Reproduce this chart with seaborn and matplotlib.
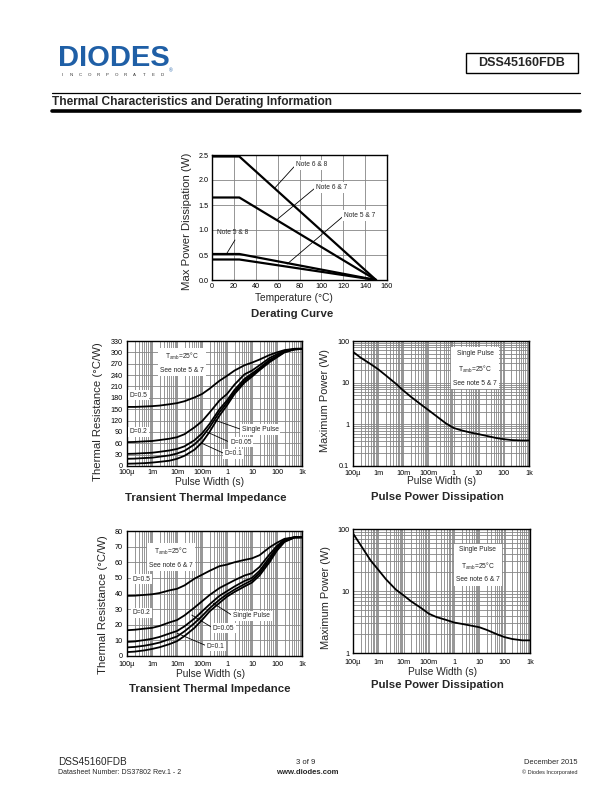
import numpy as np
import pandas as pd
import matplotlib
matplotlib.use("Agg")
import matplotlib.pyplot as plt
from matplotlib.lines import Line2D
from matplotlib.patches import Rectangle
from matplotlib.ticker import FixedLocator, FixedFormatter, NullFormatter, MultipleLocator, FormatStrFormatter
import seaborn as sns

# ---------------- data ----------------
# Derating curve
temp_c = [0, 25, 150]
pd_note68 = [2.47, 2.47, 0.0]
pd_note67 = [1.65, 1.65, 0.0]
pd_note58 = [0.52, 0.52, 0.0]
pd_note57 = [0.41, 0.41, 0.0]

# Pulse widths (s)
pulse_t = [1e-4, 2e-4, 5e-4, 1e-3, 2e-3, 5e-3, 1e-2, 2e-2, 5e-2, 0.1, 0.2, 0.5,
           1, 2, 5, 10, 20, 50, 100, 200, 500, 1000]
decade_ticks = [1e-4, 1e-3, 1e-2, 1e-1, 1, 10, 100, 1000]
decade_labels = ["100\u00b5", "1m", "10m", "100m", "1", "10", "100", "1k"]

# Transient thermal impedance (note 5 & 7), degC/W
zth1_d05 = [156, 156, 157, 158, 159.5, 163, 166, 171, 181, 190, 204, 225,
            238, 252, 266, 273, 281, 293, 300, 306, 309.5, 310]
zth1_d02 = [63, 63.5, 65, 66, 68.5, 72, 76, 84, 102, 118, 141, 173,
            190, 215, 242, 252, 266, 285, 295, 304, 308.5, 309]
zth1_d01 = [32, 32.5, 34, 35, 37.5, 41, 45, 52, 68, 86, 111, 150,
            173, 201, 230, 244, 259, 280, 291, 302, 308, 309]
zth1_d005 = [19, 19.5, 21, 22, 24.5, 28, 33, 40, 57, 76, 102, 142,
             167, 195, 225, 240, 256, 277, 289, 301, 308, 309]
zth1_sp = [6, 6.5, 7.5, 9, 11, 14, 19, 27, 43, 62, 90, 133,
           160, 190, 220, 236, 253, 274, 287, 300, 308, 309]

# Pulse power dissipation (note 5 & 7), W
ppk1 = [55, 40, 28, 21, 15, 9.5, 6.5, 4.6, 3.0, 2.2, 1.6, 1.05,
        0.82, 0.72, 0.63, 0.58, 0.53, 0.47, 0.44, 0.42, 0.41, 0.41]

# Transient thermal impedance (note 6 & 7), degC/W
zth2_d05 = [38.5, 38.6, 39.1, 39.5, 40.3, 42, 43, 45.2, 49.5, 52, 54.5, 57.5,
            58.5, 60, 61.5, 62.5, 64.5, 69.5, 72.5, 75, 76, 76]
zth2_d02 = [16.5, 16.8, 17.5, 18, 19.2, 21.5, 23, 26, 31, 35, 39, 43.5,
            46, 48.5, 51.5, 53, 57, 65, 70.5, 74.5, 76, 76]
zth2_d01 = [9, 9.3, 10.2, 11, 12.2, 14.4, 16, 19, 24, 28.5, 33, 38.5,
            41.5, 44.5, 48, 50, 54.5, 63, 69.5, 74, 76, 76]
zth2_d005 = [5.5, 5.8, 6.6, 7.5, 8.6, 10.8, 12.5, 15.8, 21, 25.5, 30.5, 36,
             39.5, 42.5, 46, 48.5, 53, 61.5, 68.5, 73.5, 75.9, 76]
zth2_sp = [2.5, 2.8, 3.6, 4.5, 5.6, 7.6, 9.5, 12.8, 18, 23, 28.5, 34,
           38, 41, 44.5, 47, 51.5, 60, 67.5, 73, 75.8, 76]

# Pulse power dissipation (note 6 & 7), W
ppk2 = [85, 55, 31, 22, 15.5, 10.5, 8.5, 6.8, 5.3, 4.3, 3.8, 3.4,
        3.1, 2.95, 2.75, 2.6, 2.35, 2.0, 1.8, 1.68, 1.6, 1.6]

# ---------------- style ----------------
sns.set_theme(style="white")
plt.rcParams['font.family'] = ['Liberation Sans', 'DejaVu Sans']
plt.rcParams['mathtext.default'] = 'regular'

W, H = 612, 792
fig = plt.figure(figsize=(6.12, 7.92), dpi=100)
GRID = '#858585'
LW = 1.3
TICK_FS = 5.2
XLAB_FS = 7.3
TITLE_FS = 8.2
ANN_FS = 4.8


def ax_at(x0, y0, x1, y1):
    return fig.add_axes([x0 / W, 1 - y1 / H, (x1 - x0) / W, (y1 - y0) / H])


def ftext(px, py, s, **kw):
    return fig.text(px / W, 1 - py / H, s, **kw)


def hline(x0, x1, y, lw, color='black'):
    fig.add_artist(Line2D([x0 / W, x1 / W], [1 - y / H, 1 - y / H], lw=lw, color=color,
                          transform=fig.transFigure))


def base_style(ax, xpad, ypad):
    ax.set_facecolor('white')
    for s in ax.spines.values():
        s.set_visible(True)
        s.set_color('black')
        s.set_linewidth(1.0)
    ax.set_axisbelow(True)
    ax.tick_params(which='both', length=0, labelsize=TICK_FS, colors='black')
    ax.tick_params(axis='x', pad=xpad)
    ax.tick_params(axis='y', pad=ypad)


def log_x(ax):
    ax.set_xscale('log')
    ax.set_xlim(1e-4, 1e3)
    ax.xaxis.set_major_locator(FixedLocator(decade_ticks))
    ax.xaxis.set_major_formatter(FixedFormatter(decade_labels))
    minors = [m * d for d in decade_ticks[:-1] for m in range(2, 10)]
    ax.xaxis.set_minor_locator(FixedLocator(minors))
    ax.xaxis.set_minor_formatter(NullFormatter())
    ax.grid(True, which='both', axis='x', color=GRID, lw=0.6)


def labels(ax, xl, yl, xlx, xly, ylx, yly, ylfs, title, title_px, title_py):
    ax.set_xlabel(xl, fontsize=XLAB_FS)
    ax.xaxis.label.set_va('center')
    ax.xaxis.set_label_coords(xlx, xly)
    ax.set_ylabel(yl, fontsize=ylfs)
    ax.yaxis.label.set_va('center')
    ax.yaxis.set_label_coords(ylx, yly)
    ftext(title_px, title_py, title, ha='center', va='center',
          fontsize=TITLE_FS, fontweight='bold')


def curve(ax, x, y, lw=LW):
    sns.lineplot(x=x, y=y, ax=ax, color='black', lw=lw, estimator=None, sort=False)


def note(ax, s, xy, xytext, ha='left'):
    ax.annotate(s, xy=xy, xytext=xytext, fontsize=ANN_FS, ha=ha, va='center',
                bbox=dict(boxstyle='square,pad=0.25', fc='white', ec='none'),
                arrowprops=dict(arrowstyle='-', lw=0.6, color='black', shrinkA=0, shrinkB=0,
                                relpos=(0, 0.5)))


def label_box(ax, s, xy, ha='left'):
    ax.text(xy[0], xy[1], s, fontsize=ANN_FS, ha=ha, va='center', linespacing=1.9,
            bbox=dict(boxstyle='square,pad=0.35', fc='white', ec='none'))


def plain_label(ax, s, xy):
    ax.text(xy[0], xy[1], s, fontsize=ANN_FS, ha='left', va='center',
            bbox=dict(boxstyle='square,pad=0.25', fc='white', ec='none'))


# ---------------- page header ----------------
ftext(58, 58, "DIODES", fontsize=21, fontweight='bold', color='#1f5fa6', ha='left', va='center')
for i, ch in enumerate("INCORPORATED"):
    ftext(62 + i * 9.1, 74.5, ch, fontsize=3.2, color='#333333', ha='center', va='center')
ftext(171, 71, "\u00ae", fontsize=3.5, color='#1f5fa6', ha='center', va='center')
fig.add_artist(Rectangle((466 / W, 1 - 73 / H), 112 / W, 20 / H, fill=False, lw=1.0,
                         ec='black', transform=fig.transFigure))
ftext(522, 63, "DSS45160FDB", fontsize=9, fontweight='bold', ha='center', va='center')
hline(52, 580, 92.5, 0.9)
ftext(52, 102, "Thermal Characteristics and Derating Information", fontsize=8.6,
      fontweight='bold', ha='left', va='center')
hline(52, 580, 111, 2.6)

# ---------------- derating curve ----------------
ax = ax_at(212, 155, 387, 280)
base_style(ax, 2.2, 2.6)
for series in (pd_note68, pd_note67, pd_note58, pd_note57):
    curve(ax, temp_c, series, lw=1.6)
ax.set_xlim(0, 160)
ax.set_ylim(0, 2.5)
ax.xaxis.set_major_locator(MultipleLocator(20))
ax.yaxis.set_major_locator(MultipleLocator(0.5))
ax.yaxis.set_major_formatter(FormatStrFormatter('%.1f'))
ax.grid(True, which='major', color=GRID, lw=0.6)
note(ax, "Note 6 & 8", (57, 1.83), (76.5, 2.3))
note(ax, "Note 6 & 7", (59.5, 1.21), (94.8, 1.85))
note(ax, "Note 5 & 7", (68.7, 0.32), (120.8, 1.29))
ax.annotate("", xy=(13.5, 0.53), xytext=(21, 0.8),
            arrowprops=dict(arrowstyle='-', lw=0.6, color='black', shrinkA=0, shrinkB=0))
ax.text(4.5, 0.94, "Note 5 & 8", fontsize=ANN_FS, ha='left', va='center')
labels(ax, "Temperature (\u00b0C)", "Max Power Dissipation (W)", 0.47, -0.14, -0.145, 0.466, 8.2,
       "Derating Curve", 292.5, 314.5)

# ---------------- transient thermal impedance 1 ----------------
ax = ax_at(127, 341, 302, 466)
base_style(ax, 2.4, 3.0)
for series in (zth1_d05, zth1_d02, zth1_d01, zth1_d005, zth1_sp):
    curve(ax, pulse_t, series)
log_x(ax)
ax.set_ylim(0, 330)
ax.yaxis.set_major_locator(MultipleLocator(30))
ax.grid(True, which='major', axis='y', color=GRID, lw=0.6)
label_box(ax, "T$_{amb}$=25\u00b0C\nSee note 5 & 7", (0.0155, 273), ha='center')
plain_label(ax, "D=0.5", (1.25e-4, 187))
plain_label(ax, "D=0.2", (1.25e-4, 90.5))
note(ax, "Single Pulse", (0.33, 121), (3.9, 96))
note(ax, "D=0.05", (0.155, 90), (1.32, 62.5))
note(ax, "D=0.1", (0.098, 60), (0.83, 32))
labels(ax, "Pulse Width (s)", "Thermal Resistance (\u00b0C/W)", 0.47, -0.125, -0.165, 0.432, 8.2,
       "Transient Thermal Impedance", 205.5, 498)

# ---------------- pulse power dissipation 1 ----------------
ax = ax_at(353, 341, 529, 466)
base_style(ax, 2.8, 2.8)
curve(ax, pulse_t, ppk1)
log_x(ax)
ax.set_yscale('log')
ax.set_ylim(0.1, 100)
ax.yaxis.set_major_locator(FixedLocator([0.1, 1, 10, 100]))
ax.yaxis.set_major_formatter(FixedFormatter(["0.1", "1", "10", "100"]))
ax.yaxis.set_minor_locator(FixedLocator([m * d for d in (0.1, 1, 10) for m in range(2, 10)]))
ax.yaxis.set_minor_formatter(NullFormatter())
ax.grid(True, which='both', axis='y', color=GRID, lw=0.6)
label_box(ax, "Single Pulse\nT$_{amb}$=25\u00b0C\nSee note 5 & 7", (7.1, 22.4), ha='center')
labels(ax, "Pulse Width (s)", "Maximum Power (W)", 0.504, -0.118, -0.16, 0.52, 7.9,
       "Pulse Power Dissipation", 437.5, 497.5)

# ---------------- transient thermal impedance 2 ----------------
ax = ax_at(127, 531, 302, 656)
base_style(ax, 3.4, 3.0)
for series in (zth2_d05, zth2_d02, zth2_d01, zth2_d005, zth2_sp):
    curve(ax, pulse_t, series)
log_x(ax)
ax.set_ylim(0, 80)
ax.yaxis.set_major_locator(MultipleLocator(10))
ax.grid(True, which='major', axis='y', color=GRID, lw=0.6)
label_box(ax, "T$_{amb}$=25\u00b0C\nSee note 6 & 7", (0.0058, 63), ha='center')
plain_label(ax, "D=0.5", (1.7e-4, 49.2))
plain_label(ax, "D=0.2", (1.7e-4, 27.6))
note(ax, "Single Pulse", (0.283, 33.7), (1.74, 25.7))
note(ax, "D=0.05", (0.039, 26.2), (0.275, 17.9))
note(ax, "D=0.1", (0.0103, 14.5), (0.158, 6.4))
labels(ax, "Pulse Width (s)", "Thermal Resistance (\u00b0C/W)", 0.48, -0.145, -0.135, 0.41, 8.2,
       "Transient Thermal Impedance", 210, 688.5)

# ---------------- pulse power dissipation 2 ----------------
ax = ax_at(353, 529, 530, 653)
base_style(ax, 4.0, 2.6)
curve(ax, pulse_t, ppk2)
log_x(ax)
ax.set_yscale('log')
ax.set_ylim(1, 100)
ax.yaxis.set_major_locator(FixedLocator([1, 10, 100]))
ax.yaxis.set_major_formatter(FixedFormatter(["1", "10", "100"]))
ax.yaxis.set_minor_locator(FixedLocator([m * d for d in (1, 10) for m in range(2, 10)]))
ax.yaxis.set_minor_formatter(NullFormatter())
ax.grid(True, which='both', axis='y', color=GRID, lw=0.6)
label_box(ax, "Single Pulse\nT$_{amb}$=25\u00b0C\nSee note 6 & 7", (8.7, 26.5), ha='center')
labels(ax, "Pulse Width (s)", "Maximum Power (W)", 0.505, -0.15, -0.155, 0.45, 7.9,
       "Pulse Power Dissipation", 437.5, 685)

# ---------------- footer ----------------
ftext(58, 762, "DSS45160FDB", fontsize=7.2, ha='left', va='center')
ftext(58, 773, "Datasheet Number: DS37802 Rev.1 - 2", fontsize=5, ha='left', va='center')
ftext(306, 762, "3 of 9", fontsize=5.6, ha='center', va='center')
ftext(307, 772.5, "www.diodes.com", fontsize=5.6, fontweight='bold', ha='center', va='center')
ftext(578, 762, "December 2015", fontsize=5.4, ha='right', va='center')
ftext(578, 772, "\u00a9 Diodes Incorporated", fontsize=4, ha='right', va='center')

fig.savefig("out.png", dpi=100, facecolor='white')
